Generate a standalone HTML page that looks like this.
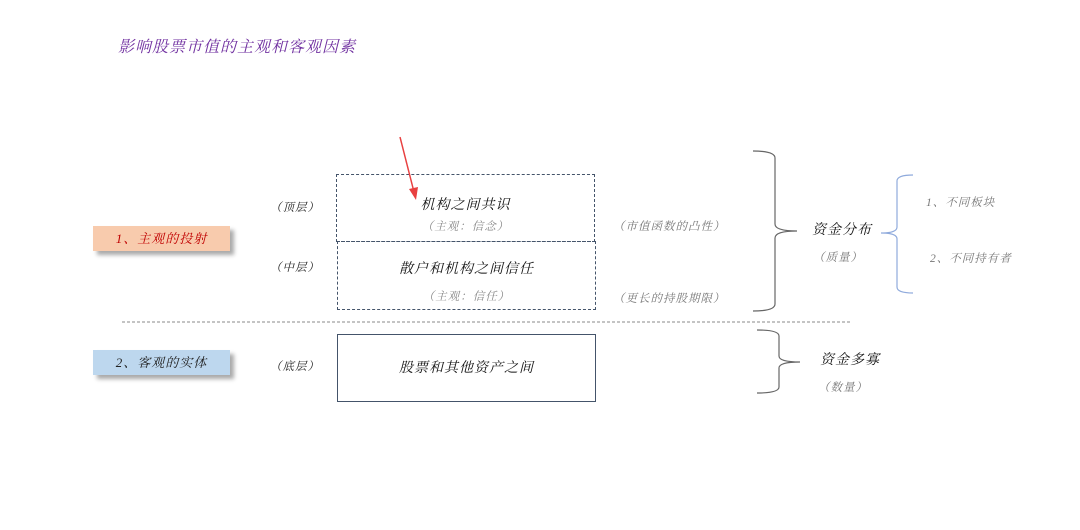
<!DOCTYPE html>
<html><head><meta charset="utf-8"><style>
body{margin:0;width:1080px;height:530px;background:#fff;position:relative;overflow:hidden;font-family:"Liberation Serif","Noto Serif CJK SC",serif;font-style:italic}
.t{position:absolute;white-space:nowrap;line-height:1;letter-spacing:1px}
.box{position:absolute;box-sizing:border-box}
</style></head><body>
<div class="t" style="left:118px;top:40px;font-size:16px;color:#7030a0">影响股票市值的主观和客观因素</div>

<div class="box" style="left:93px;top:226px;width:137px;height:25px;background:#f8cbad;box-shadow:4px 4px 4px #aaa"></div>
<div class="t" style="left:93px;top:232px;width:137px;text-align:center;font-size:13px;color:#c00000">1、主观的投射</div>
<div class="box" style="left:93px;top:350px;width:137px;height:25px;background:#bdd7ee;box-shadow:4px 4px 4px #aaa"></div>
<div class="t" style="left:93px;top:356px;width:137px;text-align:center;font-size:13px;color:#222">2、客观的实体</div>

<div class="t" style="left:270px;top:203px;font-size:11.5px;color:#222">（顶层）</div>
<div class="t" style="left:270px;top:263px;font-size:11.5px;color:#222">（中层）</div>
<div class="t" style="left:270px;top:362px;font-size:11.5px;color:#222">（底层）</div>

<div class="box" style="left:336px;top:174px;width:259px;height:68px;border:1.3px dashed #44546a"></div>
<div class="box" style="left:337px;top:241px;width:259px;height:69px;border:1.3px dashed #44546a"></div>
<div class="box" style="left:337px;top:334px;width:259px;height:68px;border:1.3px solid #44546a"></div>

<div class="t" style="left:336px;top:199px;width:259px;text-align:center;font-size:14px;color:#111">机构之间共识</div>
<div class="t" style="left:336px;top:222px;width:259px;text-align:center;font-size:11.5px;color:#888">（主观：信念）</div>
<div class="t" style="left:337px;top:263px;width:259px;text-align:center;font-size:14px;color:#111">散户和机构之间信任</div>
<div class="t" style="left:337px;top:292px;width:259px;text-align:center;font-size:11.5px;color:#888">（主观：信任）</div>
<div class="t" style="left:337px;top:362px;width:259px;text-align:center;font-size:14px;color:#111">股票和其他资产之间</div>

<div class="t" style="left:613px;top:222px;font-size:11.5px;color:#777">（市值函数的凸性）</div>
<div class="t" style="left:613px;top:294px;font-size:11.5px;color:#777">（更长的持股期限）</div>
<div class="t" style="left:812px;top:224px;font-size:14px;color:#111">资金分布</div>
<div class="t" style="left:813px;top:253px;font-size:11.5px;color:#777">（质量）</div>
<div class="t" style="left:926px;top:198px;font-size:11.5px;color:#777">1、不同板块</div>
<div class="t" style="left:930px;top:254px;font-size:11.5px;color:#777">2、不同持有者</div>
<div class="t" style="left:820px;top:354px;font-size:14px;color:#111">资金多寡</div>
<div class="t" style="left:818px;top:383px;font-size:11.5px;color:#777">（数量）</div>

<svg width="1080" height="530" style="position:absolute;left:0;top:0">
<line x1="122" y1="322" x2="852" y2="322" stroke="#888" stroke-width="1" stroke-dasharray="3,2"/>
<line x1="400" y1="137" x2="414" y2="192" stroke="#e84040" stroke-width="1.5"/>
<polygon points="416,200 409,189 418,187" fill="#e84040"/>
<path d="M753,151 Q775,151 775,158 L775,224 Q775,231 797,231 Q775,231 775,238 L775,304 Q775,311 753,311" fill="none" stroke="#666" stroke-width="1.2"/>
<path d="M913,175 Q897,175 897,181 L897,227 Q897,233 881,233 Q897,233 897,239 L897,287 Q897,293 913,293" fill="none" stroke="#8faadc" stroke-width="1.2"/>
<path d="M757,330 Q779,330 779,336 L779,356 Q779,362 800,362 Q779,362 779,368 L779,387 Q779,393 757,393" fill="none" stroke="#666" stroke-width="1.2"/>
</svg>
</body></html>
